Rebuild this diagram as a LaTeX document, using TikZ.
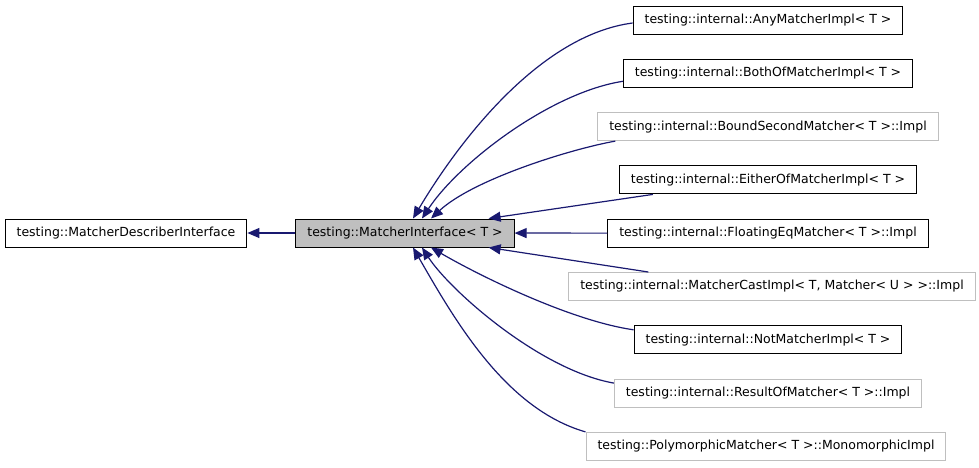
\documentclass[tikz,border=0pt]{standalone}
\usepackage{fontspec}
\setmainfont{DejaVu Sans}
\usepackage{xcolor}
\usetikzlibrary{arrows.meta,positioning}
\definecolor{edgeblue}{RGB}{25,25,112}
\definecolor{boxgray}{RGB}{191,191,191}

\begin{document}
\begin{tikzpicture}[x=1pt, y=-1pt, node distance=53.3pt,
  cls/.style={rectangle, draw=black, fill=white, line width=1pt, minimum height=28pt, inner xsep=11.5pt, font=\fontsize{12.5}{15}\selectfont},
  ext/.style={cls, draw=boxgray},
  line/.style={draw=edgeblue, line width=1.2pt, -{Triangle[length=12pt,width=10pt]}}]

  \useasboundingbox (0,0) rectangle (979,467);

  \node [cls] (describer) at (126,233) {testing::MatcherDescriberInterface};
  \node [cls, fill=boxgray] (iface) at (405,233) {testing::MatcherInterface< T >};

  \node [cls] (any) at (768,20) {testing::internal::AnyMatcherImpl< T >};
  \node [cls, below of=any] (both) {testing::internal::BothOfMatcherImpl< T >};
  \node [ext, below of=both] (bound) {testing::internal::BoundSecondMatcher< T >::Impl};
  \node [cls, below of=bound] (either) {testing::internal::EitherOfMatcherImpl< T >};
  \node [cls, below of=either] (floating) {testing::internal::FloatingEqMatcher< T >::Impl};
  \node [ext, below of=floating, xshift=4pt] (cast) {testing::internal::MatcherCastImpl< T, Matcher< U > >::Impl};
  \node [cls, below of=floating, yshift=-53.3pt] (notm) {testing::internal::NotMatcherImpl< T >};
  \node [ext, below of=notm] (result) {testing::internal::ResultOfMatcher< T >::Impl};
  \node [ext, below of=result, xshift=-2pt] (poly) {testing::PolymorphicMatcher< T >::MonomorphicImpl};

  \path [line] (iface) -- (describer);

  \path [line] ([yshift=-3pt]any.west) .. controls +(-92,12) and +(47,-79) .. ([xshift=8pt]iface.north);
  \path [line] ([yshift=-8pt]both.west) .. controls +(-72,11) and +(37,-56) .. ([xshift=17pt]iface.north);
  \path [line] ([xshift=18pt]bound.south west) .. controls +(-45,8) and +(42,-39) .. ([xshift=26pt]iface.north);
  \path [line] ([xshift=34pt]either.south west) -- ([xshift=-26pt]iface.north east);
  \path [line] (floating) -- (iface);
  \path [line] ([xshift=80pt]cast.north west) -- ([xshift=-26pt]iface.south east);
  \path [line] ([yshift=10pt]notm.west) .. controls +(-63,-9) and +(48,28) .. ([xshift=26pt]iface.south);
  \path [line] ([yshift=10pt]result.west) .. controls +(-74,-13) and +(28,43) .. ([xshift=17pt]iface.south);
  \path [line] (poly.north west) .. controls +(-80,-23) and +(42,73) .. ([xshift=8pt]iface.south);
\end{tikzpicture}
\end{document}
